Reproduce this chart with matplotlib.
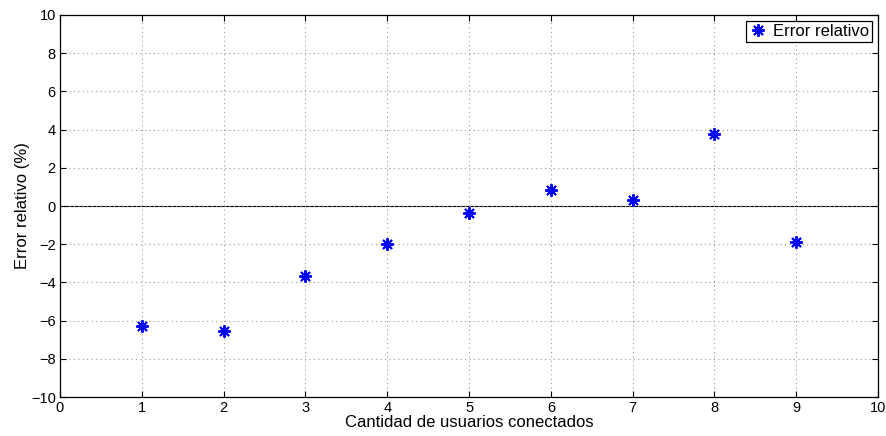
import matplotlib
matplotlib.use('Agg')
import matplotlib.pyplot as plt
import numpy as np

plt.rcParams['font.family'] = ['Liberation Sans', 'DejaVu Sans']

usuarios = [1, 2, 3, 4, 5, 6, 7, 8, 9]
error_rel = [-6.28, -6.55, -3.66, -1.99, -0.37, 0.84, 0.31, 3.78, -1.88]

fig = plt.figure(figsize=(8.87, 4.36), dpi=100)
ax = fig.add_axes([0.0676, 0.0894, 0.9224, 0.8762])

ax.axhline(0, color='black', linewidth=0.8, zorder=1)
ax.plot(usuarios, error_rel, linestyle='none', marker=(8, 2, 0), markersize=9,
        markeredgewidth=1.4, color='blue', markeredgecolor='blue', label='Error relativo', zorder=3)

ax.set_xlim(0, 10)
ax.set_ylim(-10, 10)
ax.set_xticks(np.arange(0, 11, 1))
ax.set_yticks(np.arange(-10, 11, 2))
ax.grid(True, linestyle=(0, (1, 3)), color='#999999', linewidth=0.8)
ax.tick_params(direction='in', length=4, labelsize=10.5, top=True, right=True, pad=3)
for s in ax.spines.values():
    s.set_linewidth(0.9)

ax.set_xlabel('Cantidad de usuarios conectados', fontsize=12, labelpad=0)
ax.set_ylabel('Error relativo (%)', fontsize=12, labelpad=1)

leg = ax.legend(loc='upper right', fontsize=12, fancybox=False, framealpha=1,
                edgecolor='black', borderpad=0.2, handlelength=1.0, handletextpad=0.4,
                borderaxespad=0.35)
leg.get_frame().set_linewidth(0.9)

fig.savefig('out.png', dpi=100)
